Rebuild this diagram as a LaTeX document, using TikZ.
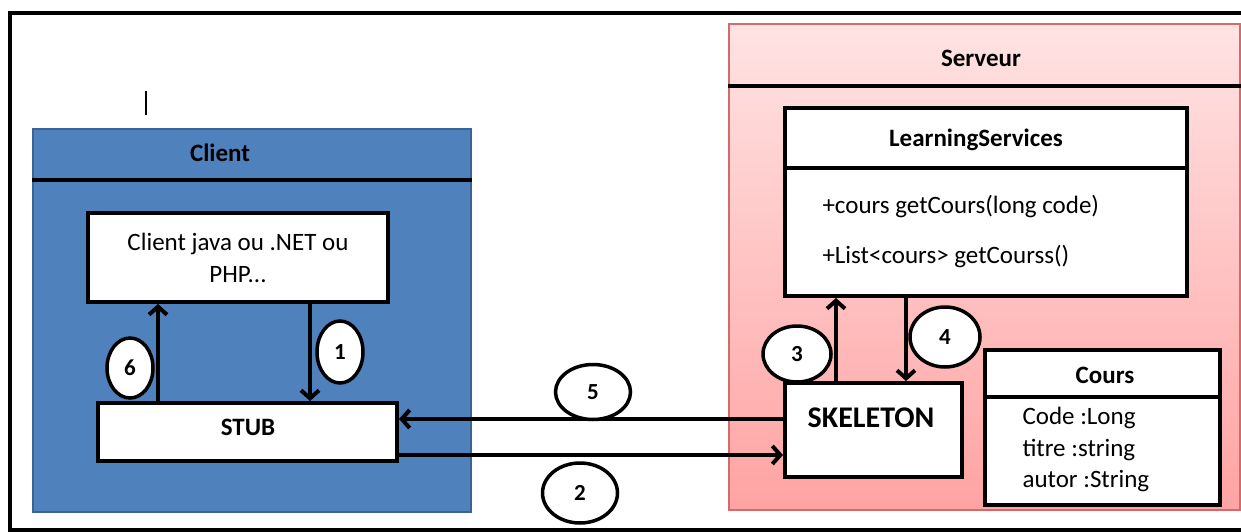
\documentclass[tikz,border=0pt]{standalone}
\usepackage{fontspec}
\setmainfont{Carlito}
\usetikzlibrary{arrows.meta,shapes.geometric}
\definecolor{clientblue}{HTML}{4F81BD}
\definecolor{clientedge}{HTML}{3A6496}
\definecolor{srvtop}{HTML}{FFE3E3}
\definecolor{srvbot}{HTML}{FFA3A3}
\definecolor{srvedge}{HTML}{D46A6A}
\begin{document}
\begin{tikzpicture}[x=1pt,y=-1pt,
  heavy/.style={line width=4pt},
  box/.style={draw, line width=4pt, fill=white, inner sep=0pt},
  arr/.style={line width=4pt, -{Straight Barb[length=8pt,width=18pt]}},
  num/.style={draw, ellipse, line width=3.5pt, fill=white, inner sep=0pt,
              font=\bfseries\fontsize{23}{26}\selectfont},
  txt/.style={font=\fontsize{25}{28}\selectfont},
  ttl/.style={font=\bfseries\fontsize{25}{28}\selectfont}
]
\useasboundingbox (0,0) rectangle (1241,532);

% outer frame (open on the right)
\coordinate (fTR) at (1245,13);
\coordinate (fTL) at (10,13);
\coordinate (fBL) at (10,530);
\coordinate (fBR) at (1245,530);
\draw[heavy] (fTR) -- (fTL) -- (fBL) -- (fBR);

% text cursor
\coordinate (caretTop) at (146,91);
\coordinate (caretBot) at (146,115);
\draw[line width=2.5pt] (caretTop) -- (caretBot);

% ---------------- client side ----------------
\node[fill=clientblue, draw=clientedge, line width=2.5pt, inner sep=0pt,
      minimum width=438pt, minimum height=383pt] (client) at (252,320.5) {};
\coordinate (csep) at (0,180);
\draw[heavy] (client.west |- csep) -- (client.east |- csep);
\node[ttl] (clientTitle) at (220,153) {Client};

\node[box, minimum width=300pt, minimum height=89pt, align=center,
      font=\fontsize{25}{32}\selectfont] (app) at (238,257.5)
      {Client java ou .NET ou\\PHP...};

\node[box, minimum width=299pt, minimum height=58pt] (stub) at (247.5,432) {};
\node[ttl] (stubText) at (248,427) {STUB};

% ---------------- server side ----------------
\node[draw=srvedge, line width=2pt, top color=srvtop, bottom color=srvbot,
      inner sep=0pt, minimum width=511pt, minimum height=486pt] (server) at (984.5,267) {};
\coordinate (ssep) at (0,86);
\draw[heavy] (server.west |- ssep) -- (server.east |- ssep);
\node[ttl] (serverTitle) at (981,58) {Serveur};

\node[box, minimum width=402pt, minimum height=188pt] (ls) at (986,202) {};
\coordinate (lsep) at (0,168);
\draw[heavy] (ls.west |- lsep) -- (ls.east |- lsep);
\node[ttl] (lsTitle) at (976,140) {LearningServices};
\node[txt, anchor=west] (m1) at (819,207) {+cours getCours(long code)};
\node[txt, anchor=west] (m2) at (819,257) {+List<cours> getCourss()};

\node[box, minimum width=177pt, minimum height=94pt] (skel) at (873.5,430) {};
\node[font=\bfseries\fontsize{30}{34}\selectfont] (skelText) at (871,418) {SKELETON};

\node[box, minimum width=235pt, minimum height=155pt] (cours) at (1102.5,427.5) {};
\coordinate (ksep) at (0,397);
\draw[heavy] (cours.west |- ksep) -- (cours.east |- ksep);
\node[ttl] (coursTitle) at (1105,375) {Cours};
\node[txt, anchor=west] (c1) at (1019,418) {Code :Long};
\node[txt, anchor=west] (c2) at (1019,450) {titre :string};
\node[txt, anchor=west] (c3) at (1019,481) {autor :String};

% ---------------- calls ----------------
\coordinate (x1) at (310,0);
\coordinate (x6) at (158,0);
\coordinate (x3) at (836,0);
\coordinate (x4) at (906,0);
\coordinate (y5) at (0,419);
\coordinate (y2) at (0,455);
\draw[arr] (app.south -| x1) -- (stub.north -| x1);
\draw[arr] (stub.north -| x6) -- (app.south -| x6);
\draw[arr] (skel.north -| x3) -- (ls.south -| x3);
\draw[arr] (ls.south -| x4) -- (skel.north -| x4);
\draw[arr] (skel.west |- y5) -- (stub.east |- y5);
\draw[arr] (stub.east |- y2) -- (skel.west |- y2);

% step numbers
\node[num, minimum width=46pt, minimum height=62pt] (n1) at (340,352) {1};
\node[num, minimum width=75pt, minimum height=60pt] (n2) at (580,493) {2};
\node[num, minimum width=68pt, minimum height=56pt] (n3) at (797,354) {3};
\node[num, minimum width=70pt, minimum height=60pt] (n4) at (945,337) {4};
\node[num, minimum width=75pt, minimum height=55pt] (n5) at (593,392) {5};
\node[num, minimum width=46pt, minimum height=60pt] (n6) at (130,368) {6};
\end{tikzpicture}
\end{document}
